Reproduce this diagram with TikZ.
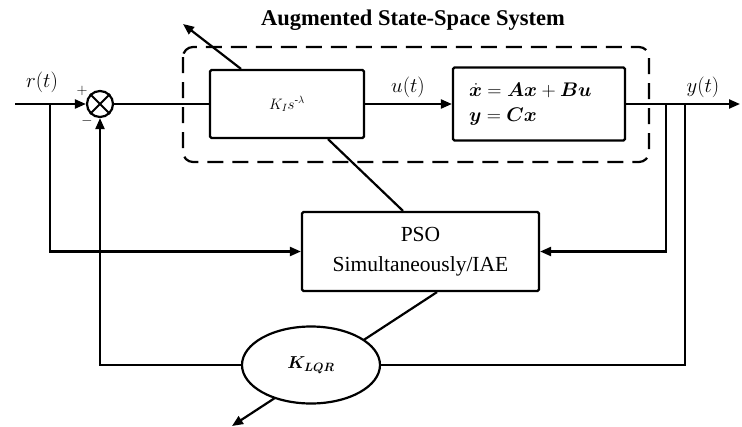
\documentclass[tikz,border=0pt]{standalone}
\usepackage{amsmath,bm}
\usepackage{graphicx}
\usepackage{fontspec}
\setmainfont{Liberation Serif}
\usetikzlibrary{arrows.meta,shapes.geometric}

\tikzset{
  blk/.style={draw, rectangle, inner sep=0pt, rounded corners=1.5pt},
  sumnode/.style={draw, circle, minimum size=26pt, inner sep=0pt},
  augbox/.style={dash pattern=on 16pt off 9pt, rounded corners=10pt},
  mathlab/.style={font=\fontsize{20.74}{24}\selectfont, inner sep=0pt},
  signlab/.style={font=\fontsize{14.4}{16}\selectfont, inner sep=0pt},
  bigtext/.style={font=\fontsize{21.5}{30}\selectfont}
}

\begin{document}
\begin{tikzpicture}[x=1pt, y=-1pt, line width=2.2pt,
  >={Triangle[length=11pt,width=9pt]}]
\useasboundingbox (0,0) rectangle (742,426);

% augmented state-space frame and its title
\draw[augbox] (183,47) rectangle (649,162);
\node[font=\bfseries\fontsize{22.5}{26}\selectfont] (title) at (413,20) {Augmented State-Space System};

% blocks
\node[sumnode] (sum) at (100,104) {};
\draw[line width=2pt] (sum.north west) -- (sum.south east) (sum.north east) -- (sum.south west);
\node[blk, minimum width=154pt, minimum height=68pt, font=\fontsize{14.4}{18}\selectfont] (ki) at (287,104)
  {\scalebox{1.05}{$K_I s^{\text{-}\lambda}$}};
\node[blk, minimum width=172pt, minimum height=73pt, text width=140pt, align=left,
  font=\fontsize{17.28}{25}\selectfont] (ss) at (539,104)
  {\scalebox{1.14}{$\dot{\bm x} = \bm{A}\bm{x} + \bm{B}\bm{u}$}\\\scalebox{1.14}{$\bm{y} = \bm{C}\bm{x}$}};
\node[blk, minimum width=237pt, minimum height=79pt, align=center, bigtext] (pso) at (420.5,251.5)
  {PSO\\Simultaneously/IAE};

% signal points
\coordinate (in) at (15,104);
\coordinate (rb) at (50,104);
\coordinate (out) at (740,104);
\coordinate (yb1) at (666,104);
\coordinate (yb2) at (685,104);
\coordinate (tipA) at (183,24);
\coordinate (tipB) at (232,426);

% tuning arrows from the optimiser
\draw ([xshift=-17.5pt]pso.north) -- ([xshift=41pt]ki.south);
\draw[->] ([xshift=-46pt]ki.north) -- (tipA);
\draw[->] ([xshift=16.5pt]pso.south) -- (tipB);

% LQR gain
\node[draw, ellipse, fill=white, minimum width=138pt, minimum height=77pt, inner sep=0pt,
  font=\fontsize{17.28}{20}\selectfont] (lqr) at (311,365) {$\bm{K_{LQR}}$};

% signal flow
\draw[->] (in) -- (sum.west);
\draw[->] (rb) |- (pso.west);
\draw (sum.east) -- (ki.west);
\draw[->] (ki.east) -- (ss.west);
\draw[->] (ss.east) -- (out);
\draw[->] (yb1) |- (pso.east);
\draw (yb2) |- (lqr.east);
\draw[->] (lqr.west) -| (sum.south);

% labels
\node[mathlab] (rlab) at (42,82) {$r(t)$};
\node[mathlab] (ulab) at (408,87) {$u(t)$};
\node[mathlab] (ylab) at (703,87) {$y(t)$};
\node[signlab] (plus) at (82,91) {$+$};
\node[signlab] (minus) at (87,121) {$-$};
\end{tikzpicture}
\end{document}
